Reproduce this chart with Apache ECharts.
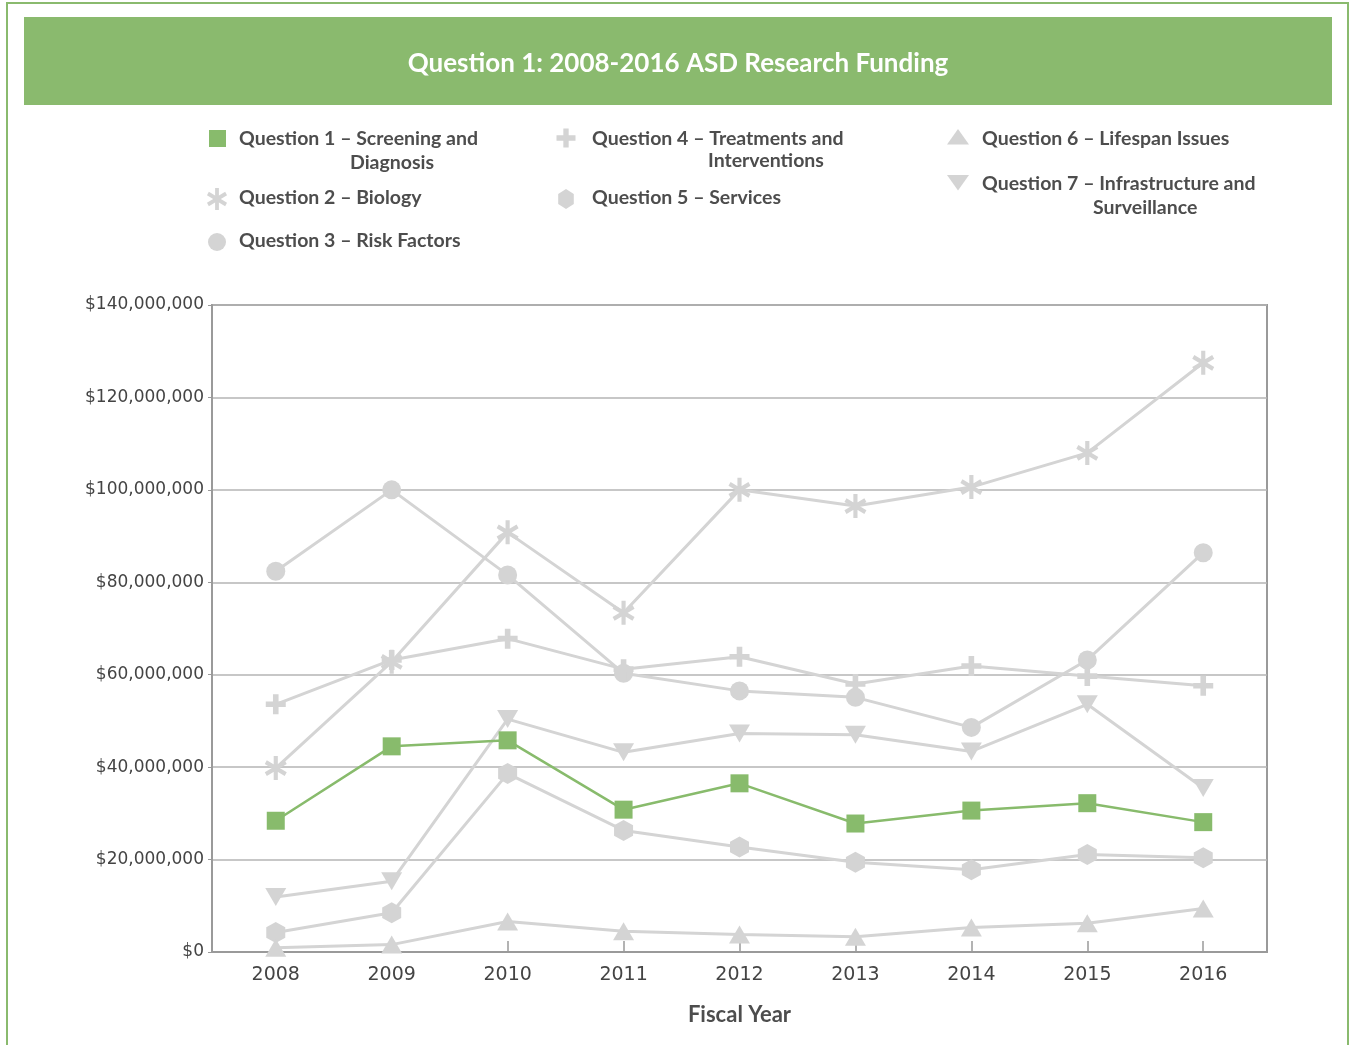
<!DOCTYPE html>
<html>
<head>
<meta charset="utf-8">
<title>Question 1: 2008-2016 ASD Research Funding</title>
<script src="https://cdn.jsdelivr.net/npm/echarts@6/dist/echarts.min.js"></script>
<style>
  html, body { margin: 0; padding: 0; background: #fff; }
  #chart { width: 1351px; height: 1045px; }
</style>
</head>
<body>
<div id="chart"></div>
<script>
const years = [2008, 2009, 2010, 2011, 2012, 2013, 2014, 2015, 2016];

const q1 = [28400000, 44500000, 45800000, 30800000, 36500000, 27800000, 30600000, 32200000, 28100000];
const q2 = [39800000, 62800000, 90800000, 73400000, 100000000, 96500000, 100600000, 108000000, 127500000];
const q3 = [82400000, 100000000, 81600000, 60300000, 56500000, 55100000, 48600000, 63200000, 86400000];
const q4 = [53600000, 63200000, 67800000, 61200000, 63900000, 58000000, 61900000, 59700000, 57600000];
const q5 = [4200000, 8500000, 38600000, 26300000, 22700000, 19400000, 17800000, 21100000, 20400000];
const q6 = [900000, 1600000, 6600000, 4500000, 3800000, 3300000, 5300000, 6200000, 9400000];
const q7 = [11900000, 15300000, 50400000, 43200000, 47300000, 47000000, 43400000, 53600000, 35500000];

const names = [
  'Question 1 – Screening and Diagnosis',
  'Question 2 – Biology',
  'Question 3 – Risk Factors',
  'Question 4 – Treatments and Interventions',
  'Question 5 – Services',
  'Question 6 – Lifespan Issues',
  'Question 7 – Infrastructure and Surveillance'
];

const GREEN = '#88bb6c';
const GREY = '#d4d4d4';
const TEXT = '#4d4d4d';
const FONT = 'Lato';
const AXIS_FONT = 'DejaVu Sans';

// marker shapes, all in a 0..100 box
function barPts(deg) {
  const a = deg * Math.PI / 180, w = 9, h = 50;
  return [[-w, -h], [w, -h], [w, h], [-w, h]].map(([x, y]) =>
    [50 + x * Math.cos(a) - y * Math.sin(a), 50 + x * Math.sin(a) + y * Math.cos(a)]);
}
const asteriskBars = [barPts(0), barPts(60), barPts(-60)];
const plusPts = [[36,0],[64,0],[64,36],[100,36],[100,64],[64,64],[64,100],[36,100],[36,64],[0,64],[0,36],[36,36]];
const hexPts = [[50,0],[93.3,25],[93.3,75],[50,100],[6.7,75],[6.7,25]];
const triUpPts = [[50,0],[100,86],[0,86]];
const triDownPts = [[0,0],[100,0],[50,86]];

const toPath = pts => 'M' + pts.map(p => p[0].toFixed(1) + ',' + p[1].toFixed(1)).join('L') + 'Z';
const asteriskPath = asteriskBars.map(toPath).join('');

const toPairs = arr => years.map((y, i) => [y, arr[i]]);

function lineSeries(name, data, symbol, size, color, z) {
  return {
    name: name,
    type: 'line',
    data: toPairs(data),
    symbol: symbol,
    symbolSize: size,
    showSymbol: true,
    z: z,
    lineStyle: {color: color, width: color === GREEN ? 2.5 : 3},
    itemStyle: {color: color, opacity: 1},
    emphasis: {disabled: true}
  };
}

// legend drawn by hand so the two-line labels sit like the original
function legendText(x, y, text) {
  return {type: 'text', x: x, y: y, style: {text: text, fill: TEXT, font: 'bold 19.5px ' + FONT, textVerticalAlign: 'middle'}};
}
function legendPoly(pts, cx, cy, w, h, color) {
  return {
    type: 'polygon',
    shape: {points: pts.map(p => [cx - w / 2 + p[0] / 100 * w, cy - h / 2 + p[1] / 100 * h])},
    style: {fill: color}
  };
}

const chart = echarts.init(document.getElementById('chart'), null, {renderer: 'canvas'});

chart.setOption({
  backgroundColor: '#fff',
  animation: false,
  textStyle: {fontFamily: FONT},
  grid: {left: 212, right: 84, top: 305, bottom: 93, show: true, borderColor: '#9a9a9a', borderWidth: 2},
  xAxis: {
    type: 'value',
    min: 2007.45,
    max: 2016.55,
    name: 'Fiscal Year',
    nameLocation: 'middle',
    nameGap: 52,
    nameTextStyle: {color: TEXT, fontSize: 22, fontWeight: 'bold', fontFamily: FONT},
    axisLine: {show: true, lineStyle: {color: '#9a9a9a', width: 2}},
    axisTick: {show: true, inside: true, length: 11, customValues: years, lineStyle: {color: '#9a9a9a', width: 1.5}},
    axisLabel: {
      customValues: years, color: '#444', fontSize: 19, margin: 14, fontFamily: AXIS_FONT,
      formatter: v => String(v)
    },
    splitLine: {show: false}
  },
  yAxis: {
    type: 'value',
    min: 0,
    max: 140000000,
    interval: 20000000,
    axisLine: {show: true, lineStyle: {color: '#9a9a9a', width: 2}},
    axisTick: {show: true, length: 4, lineStyle: {color: '#9a9a9a'}},
    axisLabel: {
      color: '#444', fontSize: 17, margin: 8, fontFamily: AXIS_FONT,
      formatter: v => '$' + v.toLocaleString('en-US')
    },
    splitLine: {show: true, lineStyle: {color: '#b5b5b5', width: 1.5}}
  },
  series: [
    lineSeries(names[1], q2, 'path://' + asteriskPath, [22, 24], GREY, 2),
    lineSeries(names[2], q3, 'circle', 19, GREY, 2),
    lineSeries(names[3], q4, 'path://' + toPath(plusPts), 20, GREY, 2),
    lineSeries(names[4], q5, 'path://' + toPath(hexPts), [19, 21], GREY, 2),
    lineSeries(names[5], q6, 'path://' + toPath(triUpPts), [21, 18], GREY, 2),
    lineSeries(names[6], q7, 'path://' + toPath(triDownPts), [21, 18], GREY, 2),
    lineSeries(names[0], q1, 'rect', 18, GREEN, 5)
  ],
  graphic: [
    // outer green frame and title banner
    {type: 'rect', shape: {x: 7, y: 3, width: 1341, height: 1080}, style: {fill: 'none', stroke: '#8aba6e', lineWidth: 2}, silent: true},
    {type: 'rect', shape: {x: 24, y: 17, width: 1308, height: 88}, style: {fill: '#8aba6e'}, silent: true},
    {type: 'text', x: 678, y: 64, style: {text: 'Question 1: 2008-2016 ASD Research Funding', fill: '#fff', font: 'bold 26px ' + FONT, textAlign: 'center', textVerticalAlign: 'middle'}},

    {type: 'rect', shape: {x: 209, y: 130, width: 17, height: 17}, style: {fill: GREEN}},
    legendText(239, 139, 'Question 1 – Screening and'),
    legendText(350, 163, 'Diagnosis'),
    legendPoly(asteriskBars[0], 217, 199, 21, 22, GREY),
    legendPoly(asteriskBars[1], 217, 199, 21, 22, GREY),
    legendPoly(asteriskBars[2], 217, 199, 21, 22, GREY),
    legendText(239, 198, 'Question 2 – Biology'),
    {type: 'circle', shape: {cx: 217, cy: 242, r: 9}, style: {fill: GREY}},
    legendText(239, 241, 'Question 3 – Risk Factors'),

    legendPoly(plusPts, 566, 138, 19, 19, GREY),
    legendText(592, 139, 'Question 4 – Treatments and'),
    legendText(708, 161, 'Interventions'),
    legendPoly(hexPts, 566, 199, 18, 20, GREY),
    legendText(592, 198, 'Question 5 – Services'),

    legendPoly(triUpPts, 958, 138, 22, 18, GREY),
    legendText(982, 139, 'Question 6 – Lifespan Issues'),
    legendPoly(triDownPts, 958, 184, 22, 18, GREY),
    legendText(982, 184, 'Question 7 – Infrastructure and'),
    legendText(1093, 208, 'Surveillance')
  ]
});
</script>
</body>
</html>
